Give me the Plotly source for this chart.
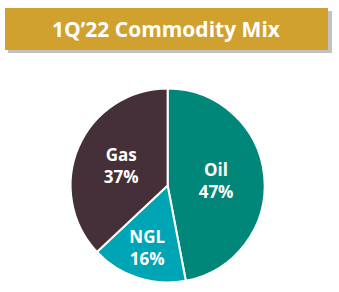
import plotly.graph_objects as go

title = "1Q\u201922 Commodity Mix"
labels = ["Oil", "NGL", "Gas"]
values = [47, 16, 37]
colors = ["#008779", "#00A5B5", "#45303A"]

fig = go.Figure()
fig.add_trace(go.Pie(
    labels=labels, values=values, sort=False, direction="clockwise", rotation=0,
    marker=dict(colors=colors, line=dict(color="white", width=2)),
    texttemplate="<b>%{label}<br>%{value}%</b>", textposition="inside",
    insidetextorientation="horizontal",
    textfont=dict(family="Open Sans", size=17, color="white"),
    domain=dict(x=[0.208, 0.781], y=[0.0325, 0.697]),
    showlegend=False, hoverinfo="skip",
))
# banner shadow and banner
fig.add_shape(type="rect", xref="paper", yref="paper", x0=8/339, x1=332/339, y0=1-53/292, y1=1-11/292,
              fillcolor="rgba(120,120,120,0.45)", line_width=0, layer="below")
fig.add_shape(type="rect", xref="paper", yref="paper", x0=5/339, x1=328/339, y0=1-50/292, y1=1-8/292,
              fillcolor="#D0A12E", line_width=0, layer="below")
fig.add_annotation(text="<b>" + title + "</b>", xref="paper", yref="paper", x=(5+328)/2/339, y=1-29/292,
                   showarrow=False, font=dict(family="Open Sans", size=21, color="white"),
                   xanchor="center", yanchor="middle")
fig.update_layout(width=339, height=292, margin=dict(l=0, r=0, t=0, b=0),
                  paper_bgcolor="white", plot_bgcolor="white")
fig.write_html("out.html")
